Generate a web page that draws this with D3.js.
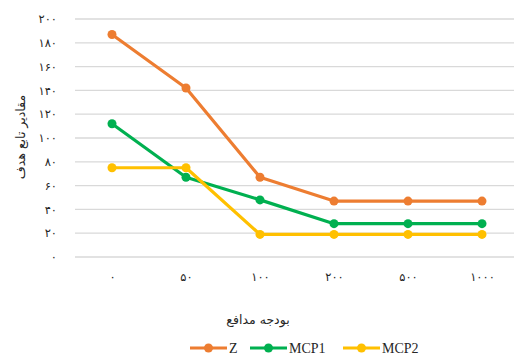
<!DOCTYPE html>
<html><head><meta charset="utf-8">
<script src="https://cdn.jsdelivr.net/npm/d3@7"></script>
<style>body{margin:0;background:#fff}svg{display:block}</style>
</head><body>
<svg id="c" width="514" height="356"></svg>
<script>
const categories = ["۰","۵۰","۱۰۰","۲۰۰","۵۰۰","۱۰۰۰"];
const zValues    = [187, 142, 67, 47, 47, 47];
const mcp1Values = [112, 67, 48, 28, 28, 28];
const mcp2Values = [75, 75, 19, 19, 19, 19];
const yTicks = [0,20,40,60,80,100,120,140,160,180,200];
const yTickLabels = ["۰","۲۰","۴۰","۶۰","۸۰","۱۰۰","۱۲۰","۱۴۰","۱۶۰","۱۸۰","۲۰۰"];
const seriesNames = ["Z","MCP1","MCP2"];
const seriesColors = ["#ED7D31","#00B050","#FFC000"];
const xTitle = "بودجه مدافع";
const yTitle = "مقادیر تابع هدف";

const series = seriesNames.map((n,i)=>({name:n,color:seriesColors[i],values:[zValues,mcp1Values,mcp2Values][i]}));
const svg = d3.select("#c");
const x = d3.scalePoint().domain(categories).range([75,519]).padding(0.5);
const y = d3.scaleLinear().domain([0,200]).range([257,19]);

// gridlines
svg.append("g").selectAll("line").data(yTicks).join("line")
  .attr("x1",75).attr("x2",519).attr("y1",d=>y(d)).attr("y2",d=>y(d))
  .attr("stroke","#D9D9D9").attr("stroke-width",1.3);

// y axis labels
const yAxis = d3.axisLeft(y).tickValues(yTicks).tickFormat((d,i)=>yTickLabels[i]).tickSize(0).tickPadding(0);
const yg = svg.append("g").attr("transform","translate(57,0)").call(yAxis);
yg.select(".domain").remove();
yg.selectAll("text").attr("font-family","DejaVu Sans").attr("font-size",11.5).attr("fill","#262626").attr("direction","ltr");

// x axis labels
const xAxis = d3.axisBottom(x).tickSize(0).tickPadding(0);
const xg = svg.append("g").attr("transform","translate(0,273)").call(xAxis);
xg.select(".domain").remove();
xg.selectAll("text").attr("font-family","DejaVu Sans").attr("font-size",11.5).attr("fill","#262626").attr("direction","ltr");

// titles
svg.append("text").attr("x",258).attr("y",324).attr("text-anchor","middle")
  .attr("font-family","DejaVu Sans").attr("font-size",12.5).attr("fill","#262626").text(xTitle);
svg.append("text").attr("transform","translate(25,137) rotate(-90)").attr("text-anchor","middle")
  .attr("font-family","DejaVu Sans").attr("font-size",12.5).attr("fill","#262626").text(yTitle);

// lines
const line = d3.line().x((d,i)=>x(categories[i])).y(d=>y(d));
const sg = svg.append("g").selectAll("g").data(series).join("g");
sg.append("path").attr("d",d=>line(d.values)).attr("fill","none")
  .attr("stroke",d=>d.color).attr("stroke-width",3.2).attr("stroke-linejoin","round");
sg.selectAll("circle").data(d=>d.values.map(v=>({v,c:d.color}))).join("circle")
  .attr("cx",(d,i)=>x(categories[i])).attr("cy",d=>y(d.v)).attr("r",4.5).attr("fill",d=>d.c);

// legend
const legX = [190,250,343];
const lg = svg.append("g").selectAll("g").data(series).join("g")
  .attr("transform",(d,i)=>`translate(${legX[i]},348)`);
lg.append("line").attr("x1",0).attr("x2",37).attr("stroke",d=>d.color).attr("stroke-width",3.2);
lg.append("circle").attr("cx",18.5).attr("r",4.5).attr("fill",d=>d.color);
lg.append("text").attr("x",39).attr("y",5).attr("font-family","Liberation Serif").attr("font-size",14)
  .attr("fill","#262626").text(d=>d.name);
</script>
</body></html>
